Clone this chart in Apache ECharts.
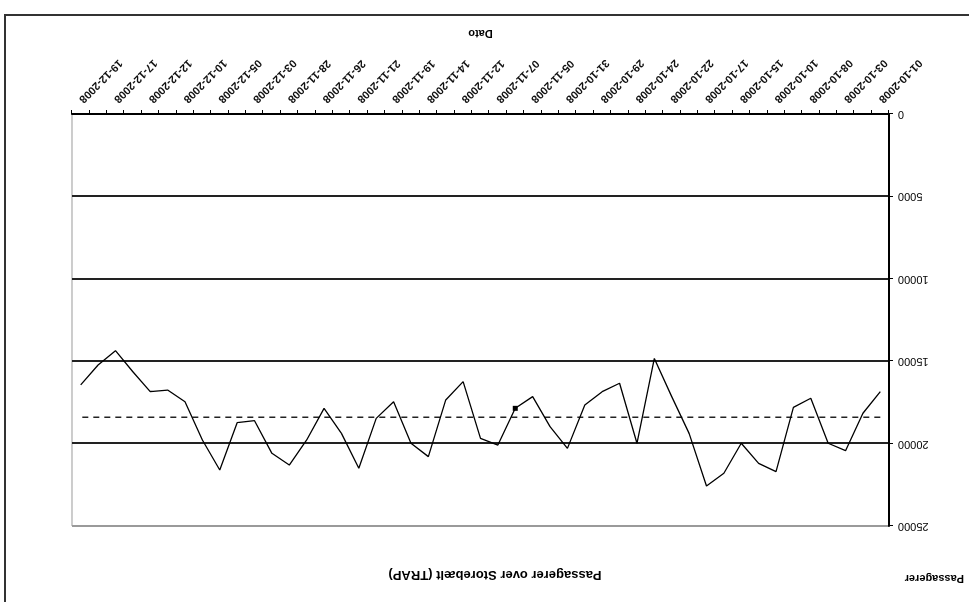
<!DOCTYPE html>
<html>
<head>
<meta charset="utf-8">
<script src="https://cdn.jsdelivr.net/npm/echarts@6/dist/echarts.min.js"></script>
<style>
  html, body { margin: 0; padding: 0; background: #fff; overflow: hidden; }
  /* the reference picture is turned upside down */
  #chart { width: 969px; height: 602px; transform: rotate(180deg); }
</style>
</head>
<body>
<div id="chart"></div>
<script>
// Dates (dd-mm-yyyy), Tuesday to Friday
const dates = [
    '01-10-2008', '02-10-2008', '03-10-2008',
    '07-10-2008', '08-10-2008', '09-10-2008', '10-10-2008',
    '14-10-2008', '15-10-2008', '16-10-2008', '17-10-2008',
    '21-10-2008', '22-10-2008', '23-10-2008', '24-10-2008',
    '28-10-2008', '29-10-2008', '30-10-2008', '31-10-2008',
    '04-11-2008', '05-11-2008', '06-11-2008', '07-11-2008',
    '11-11-2008', '12-11-2008', '13-11-2008', '14-11-2008',
    '18-11-2008', '19-11-2008', '20-11-2008', '21-11-2008',
    '25-11-2008', '26-11-2008', '27-11-2008', '28-11-2008',
    '02-12-2008', '03-12-2008', '04-12-2008', '05-12-2008',
    '09-12-2008', '10-12-2008', '11-12-2008', '12-12-2008',
    '16-12-2008', '17-12-2008', '18-12-2008', '19-12-2008'
];

// Passagerer per day
const passengers = [
    16850, 18160, 20430, 19980, 17250, 17800, 21700, 21200, 19980, 21800,
    22570, 19380, 17150, 14830, 19980, 16340, 16850, 17660, 20290, 18970,
    17150, 17860, 20090, 19680, 16240, 17350, 20790, 19980, 17460, 18470,
    21500, 19380, 17860, 19780, 21300, 20590, 18610, 18730, 21600, 19780,
    17460, 16750, 16850, 15640, 14360, 15230, 16440
];

// dashed level line
const averageLevel = 18400;
// the one point drawn with a marker
const markedIndex = 21;

const yTicks = [0, 5000, 10000, 15000, 20000, 25000];

let myChart = echarts.init(document.getElementById('chart'), null, { renderer: 'canvas' });

const textFont = 'Arial, "Liberation Sans", sans-serif';

let option = {
    backgroundColor: '#ffffff',
    animation: false,
    grid: {
        left: 80,
        right: 72,
        top: 76,
        bottom: 114,
        show: true,
        borderColor: '#9a9a9a',
        borderWidth: 1,
        containLabel: false
    },
    graphic: [
        {
            type: 'rect',
            shape: { x: -10, y: -10, width: 974, height: 597 },
            style: { fill: 'none', stroke: '#333', lineWidth: 2 },
            silent: true
        },
        {
            type: 'text',
            x: 474,
            y: 21,
            style: {
                text: 'Passagerer over Storebælt (TRAP)',
                font: 'bold 13px ' + textFont,
                fill: '#000',
                align: 'center',
                verticalAlign: 'top'
            }
        },
        {
            type: 'text',
            x: 5,
            y: 18,
            style: {
                text: 'Passagerer',
                font: 'bold 11px ' + textFont,
                fill: '#000',
                align: 'left',
                verticalAlign: 'top'
            }
        }
    ],
    xAxis: {
        type: 'category',
        data: dates,
        boundaryGap: true,
        name: 'Dato',
        nameLocation: 'middle',
        nameGap: 75,
        nameTextStyle: { fontFamily: textFont, fontSize: 11, fontWeight: 'bold', color: '#000' },
        axisLine: { lineStyle: { color: '#000', width: 2 } },
        axisTick: { show: true, interval: 0, length: 4, lineStyle: { color: '#000', width: 1 } },
        axisLabel: {
            interval: 1,
            rotate: 45,
            margin: 13,
            fontFamily: textFont,
            fontSize: 11,
            fontWeight: 'bold',
            color: '#111'
        },
        splitLine: { show: false }
    },
    yAxis: {
        type: 'value',
        min: 0,
        max: 25000,
        interval: 5000,
        axisLine: { show: true, lineStyle: { color: '#000', width: 2 } },
        axisTick: { show: true, length: 4, lineStyle: { color: '#000' } },
        axisLabel: {
            margin: 9,
            fontFamily: textFont,
            fontSize: 11,
            color: '#000',
            formatter: function (v) {
                return yTicks.indexOf(v) >= 0 ? String(v) : '';
            }
        },
        splitLine: {
            show: true,
            lineStyle: { color: ['#222', '#222', '#222', '#222', '#222', '#9a9a9a'], width: 1.8 }
        }
    },
    series: [
        {
            name: 'Passagerer',
            type: 'line',
            data: passengers.map((v, i) => i === markedIndex
                ? { value: v, symbol: 'rect', symbolSize: 5 }
                : v),
            symbol: 'none',
            showSymbol: true,
            itemStyle: { color: '#000' },
            lineStyle: { color: '#000', width: 1.3 },
            z: 3
        },
        {
            name: 'Niveau',
            type: 'line',
            data: dates.map(() => averageLevel),
            symbol: 'none',
            lineStyle: { color: '#222', width: 1.6, type: [6, 5] },
            z: 2
        }
    ]
};

myChart.setOption(option, true);
</script>
</body>
</html>
